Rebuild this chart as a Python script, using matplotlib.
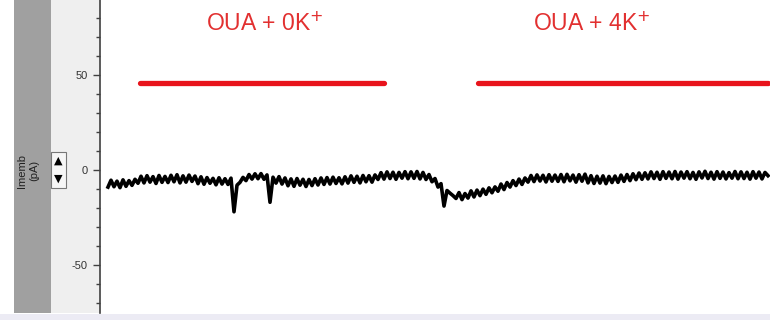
import numpy as np
import matplotlib.pyplot as plt
from matplotlib.patches import Rectangle
from matplotlib.ticker import MultipleLocator

plt.rcParams['font.family'] = ['Liberation Sans', 'DejaVu Sans']
plt.rcParams['axes.unicode_minus'] = False

# membrane current trace (pA), sampled every 3 s from t = 8 s
t0, dt = 8, 3
imemb = [
    -9.0, -5.4, -8.8, -5.9, -9.3, -5.2, -8.6, -5.6, -8.1, -4.9,
    -7.0, -3.3, -6.8, -3.0, -6.4, -3.5, -7.1, -2.9, -6.5, -3.4,
    -6.6, -2.8, -6.2, -2.5, -6.8, -3.1, -6.4, -2.7, -6.0, -3.2,
    -7.2, -3.6, -7.5, -4.0, -7.0, -4.4, -7.8, -4.1, -7.4, -4.6,
    -7.6, -4.3, -22.0, -8.0, -6.5, -3.9, -5.6, -2.4, -4.8, -2.0,
    -4.6, -1.9, -4.9, -2.6, -17.0, -3.8, -6.9, -3.5, -7.4, -4.2,
    -8.3, -4.7, -8.6, -4.5, -8.0, -4.9, -8.7, -5.0, -8.2, -4.6,
    -7.9, -4.2, -7.6, -4.0, -7.4, -3.8, -7.1, -4.1, -7.3, -3.6,
    -6.9, -3.1, -6.5, -3.3, -6.8, -2.9, -6.2, -3.0, -6.4, -2.6,
    -5.0, -1.4, -4.8, -1.0, -4.5, -1.2, -4.9, -1.3, -4.3, -0.9,
    -4.6, -1.0, -4.4, -0.8, -4.7, -1.3, -5.0, -2.4, -6.2, -4.5,
    -9.0, -7.2, -19.0, -10.8, -12.2, -13.5, -15.0, -11.9, -15.6, -12.4,
    -14.8, -11.0, -14.2, -10.6, -13.5, -10.1, -12.8, -9.4, -12.0, -8.9,
    -11.2, -7.4, -10.3, -6.6, -9.0, -5.6, -8.2, -4.8, -7.6, -4.2,
    -6.4, -2.9, -6.1, -2.6, -5.8, -2.8, -6.3, -2.5, -5.9, -2.7,
    -6.0, -2.4, -6.2, -2.3, -5.7, -2.7, -6.4, -2.5, -5.9, -2.2,
    -6.8, -3.0, -7.1, -3.3, -6.9, -3.1, -7.2, -3.4, -6.6, -3.2,
    -6.5, -2.7, -6.0, -2.4, -5.6, -2.0, -5.1, -1.6, -4.9, -1.5,
    -4.7, -1.0, -4.5, -1.2, -4.9, -0.9, -4.4, -1.1, -4.6, -0.8,
    -4.8, -1.1, -4.3, -0.9, -4.6, -1.3, -4.9, -1.0, -4.2, -0.7,
    -4.5, -1.2, -4.8, -0.9, -4.4, -1.1, -4.7, -1.4, -4.3, -0.8,
    -4.6, -1.0, -4.5, -1.2, -4.8, -0.9, -4.3, -1.1, -4.7, -1.3,
    -3.0,
]
t = t0 + dt * np.arange(len(imemb))

# drug application periods
labels = ['OUA + 0K$^{+}$', 'OUA + 4K$^{+}$']
starts = [40, 378]
ends = [284, 668]
bar_level = 46
label_x = [165, 492]
label_y = [76.5, 77]

fig = plt.figure(figsize=(7.7, 3.2), dpi=100)
fig.patch.set_facecolor('white')

W, H = 770, 320
# side panels like the acquisition software
fig.patches.append(Rectangle((14 / W, 7 / H), 37 / W, 313 / H, transform=fig.transFigure,
                             facecolor='#a0a0a0', edgecolor='none', zorder=0))
fig.patches.append(Rectangle((51 / W, 7 / H), 49 / W, 313 / H, transform=fig.transFigure,
                             facecolor='#efefef', edgecolor='none', zorder=0))
fig.patches.append(Rectangle((0, 0), 1, 6 / H, transform=fig.transFigure,
                             facecolor='#ecebf4', edgecolor='none', zorder=0))

ax = fig.add_axes([100 / W, 7 / H, 670 / W, 313 / H])
ax.set_zorder(5)
ax.set_facecolor('white')
ax.plot(t, imemb, color='black', lw=2.6)
for s, e, lab, lx, ly in zip(starts, ends, labels, label_x, label_y):
    ax.plot([s, e], [bar_level, bar_level], color='#e8141c', lw=3.8, solid_capstyle='round')
    ax.text(lx, ly, lab, color='#e23030', fontsize=16.5, ha='center', va='center')

ax.set_xlim(0, 670)
ax.set_ylim(-75.3, 89.5)
for side in ['top', 'right', 'bottom']:
    ax.spines[side].set_visible(False)
ax.spines['left'].set_color('#404040')
ax.spines['left'].set_linewidth(1.2)
ax.set_xticks([])
ax.yaxis.set_major_locator(MultipleLocator(50))
ax.yaxis.set_minor_locator(MultipleLocator(10))
ax.tick_params(axis='y', which='major', length=5, width=1, color='#404040',
               labelsize=8, labelcolor='#333333', pad=4)
ax.tick_params(axis='y', which='minor', length=3, width=1, color='#404040')

# y label in the grey band
fig.text(22 / W, 1 - 171 / H, 'Imemb', rotation=90, ha='center', va='center',
         fontsize=8, color='#222222', zorder=6)
fig.text(34 / W, 1 - 170 / H, '(pA)', rotation=90, ha='center', va='center',
         fontsize=8, color='#222222', zorder=6)

# little up/down spinner
fig.patches.append(Rectangle((51 / W, 1 - 188 / H), 15 / W, 36 / H, transform=fig.transFigure,
                             facecolor='#f6f6f6', edgecolor='#777777', lw=0.8, zorder=2))
fig.patches.append(Rectangle((51 / W, 1 - 170 / H), 15 / W, 0.5 / H, transform=fig.transFigure,
                             facecolor='#777777', edgecolor='none', zorder=2))
fig.text(58.5 / W, 1 - 161 / H, '\u25b2', ha='center', va='center', fontsize=8,
         color='black', family='DejaVu Sans', zorder=3)
fig.text(58.5 / W, 1 - 179 / H, '\u25bc', ha='center', va='center', fontsize=8,
         color='black', family='DejaVu Sans', zorder=3)

fig.savefig('out.png', dpi=100)
